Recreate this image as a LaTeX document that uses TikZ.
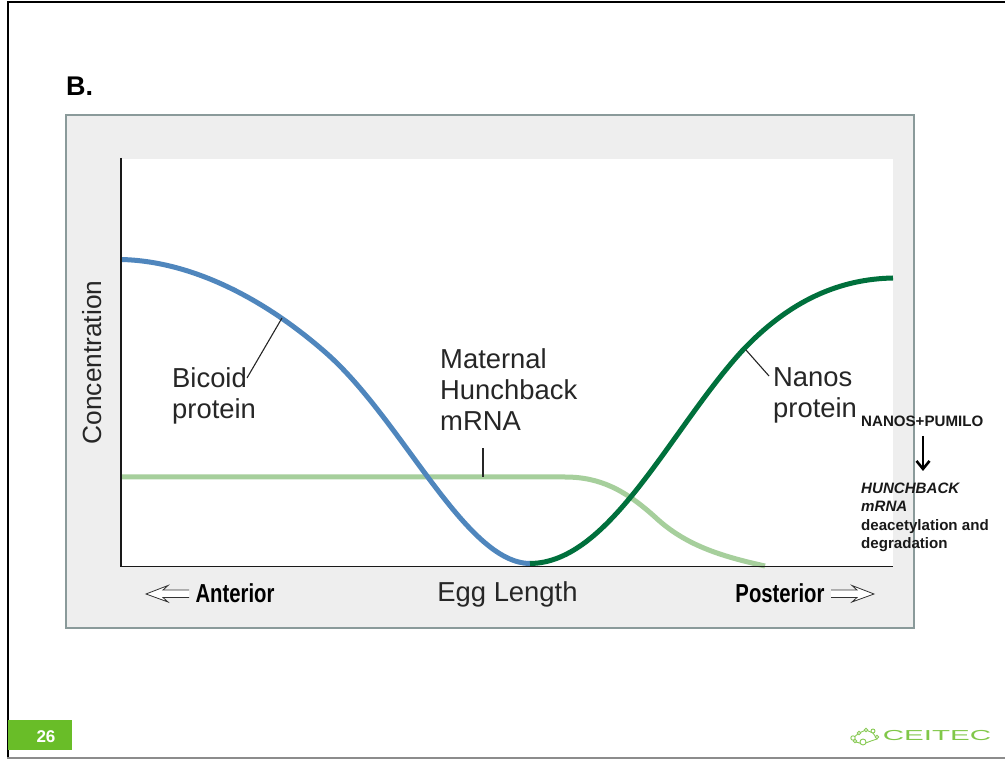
\documentclass[tikz,border=0pt]{standalone}
\usepackage{fontspec}
\setmainfont{Liberation Sans}
\usetikzlibrary{arrows.meta}
\definecolor{panelgray}{HTML}{EEEEEE}
\definecolor{paneledge}{HTML}{8A9A9A}
\definecolor{bluecurve}{HTML}{4F86BD}
\definecolor{darkgreen}{HTML}{00703C}
\definecolor{lightgreen}{HTML}{A6CF9C}
\definecolor{ceitec}{HTML}{69BD28}
\tikzset{
  x=1pt,y=-1pt,
  lbl/.style={inner sep=0pt,align=left,anchor=north west,font=\fontsize{27.4}{31}\selectfont,text=black!85},
  side/.style={inner sep=0pt,anchor=center,font=\fontsize{26}{30}\selectfont\bfseries,xscale=.78},
  note/.style={inner sep=0pt,align=left,anchor=north west,font=\fontsize{15.1}{18.2}\selectfont\bfseries,text=black!90},
  leader/.style={draw=black!85,line width=1.1pt},
  curve/.style={line width=5pt,line cap=butt},
  hollow/.style={draw=black!80,fill=white,line width=.8pt},
  logo/.style={draw=ceitec!80,line width=.9pt,fill=white},
}
\begin{document}
\begin{tikzpicture}
\useasboundingbox (0,0) rectangle (1005,759);
\fill[white] (0,0) rectangle (1005,759);
% slide frame
\draw[line width=2pt,black] (7.5,760) -- (7.5,2.5) -- (1006,2.5);
\draw[line width=1.2pt,black!45] (7,758) -- (1006,758);
% title
\node[inner sep=0pt,anchor=base west,font=\fontsize{27}{30}\selectfont\bfseries] (title) at (66,96) {B.};
% panel
\draw[fill=panelgray,draw=paneledge,line width=1.3pt] (66,115) rectangle (914,628);
\fill[white] (121,159) rectangle (893,566);
% curves
\draw[curve,lightgreen] (121,477) -- (565,477) .. controls (600,477) and (625,490) .. (655,517) .. controls (685,545) and (720,556) .. (765,566);
\draw[curve,bluecurve] (121,259.5) .. controls (190,261) and (262,297) .. (325,352) .. controls (402,419) and (465,563) .. (530,563.5);
\draw[curve,darkgreen] (530,563.5) .. controls (610,563) and (670,430) .. (742,351) .. controls (790,300) and (840,279) .. (893,278);
% axes
\draw[line width=1.4pt,black!90] (121,158) -- (121,566.5) -- (893,566.5);
% leaders
\coordinate (bicoidTip) at (282,318);
\coordinate (bicoidEnd) at (247,378);
\coordinate (hbTip) at (483,477);
\coordinate (hbEnd) at (483,448);
\coordinate (nanosTip) at (746,350);
\coordinate (nanosEnd) at (769,376);
\draw[leader] (bicoidTip) -- (bicoidEnd);
\draw[leader] (hbTip) -- (hbEnd);
\draw[leader] (nanosTip) -- (nanosEnd);
% labels
\node[lbl] (bicoid) at (172,367) {Bicoid\\protein};
\node[lbl] (hb) at (440,348) {Maternal\\Hunchback\\mRNA};
\node[lbl] (nanos) at (773,367) {Nanos\\protein};
\node[inner sep=0pt,rotate=90,font=\fontsize{26.3}{30}\selectfont,text=black!85] (conc) at (92,362.5) {Concentration};
\node[inner sep=0pt,font=\fontsize{27.4}{30}\selectfont,text=black!85] (egg) at (507.5,594) {Egg Length};
\node[side] (ant) at (235,593) {Anterior};
\node[side] (post) at (780,593) {Posterior};
% hollow arrows
\draw[hollow] (189,590) -- (163,590) -- (168,585.5) -- (146,594) -- (168,602) -- (163,597.5) -- (189,597.5);
\draw[hollow] (831,590) -- (857,590) -- (852,585.5) -- (874,594) -- (852,602) -- (857,597.5) -- (831,597.5);
% note
\node[note] (np) at (861,415.5) {NANOS+PUMILO};
\node[note] (hunch) at (861,483) {\itshape HUNCHBACK\\\itshape mRNA\\deacetylation and\\degradation};
\coordinate (arrowTop) at (923,436);
\coordinate (arrowEnd) at (923,471);
\draw[line width=2.6pt,-{Straight Barb[length=8pt,width=13pt,line width=2.6pt]},black] (arrowTop) -- (arrowEnd);
% page number
\fill[ceitec] (8,720) rectangle (72,750);
\node[inner sep=0pt,font=\fontsize{17}{20}\selectfont\bfseries,text=white] (page) at (46,737) {26};
% logo
\draw[logo,fill=none] (853,738) -- (859,733) -- (866,730) -- (873,733) -- (877,739) -- (871,741) -- (863,744) -- (856,742) -- cycle;
\draw[logo] (853,738) circle (2.2);
\draw[logo] (859,733) circle (1.8);
\draw[logo] (866,730) circle (1.8);
\draw[logo] (873,731) circle (2);
\draw[logo] (877,737) circle (1.8);
\draw[logo] (863,742) circle (3);
\draw[logo] (855,741) circle (1.8);
\node[inner sep=0pt,anchor=west,font=\fontsize{17}{20}\selectfont,text=ceitec!85,xscale=1.74,yscale=.85] (brand) at (882.5,736) {CEITEC};
\end{tikzpicture}
\end{document}
